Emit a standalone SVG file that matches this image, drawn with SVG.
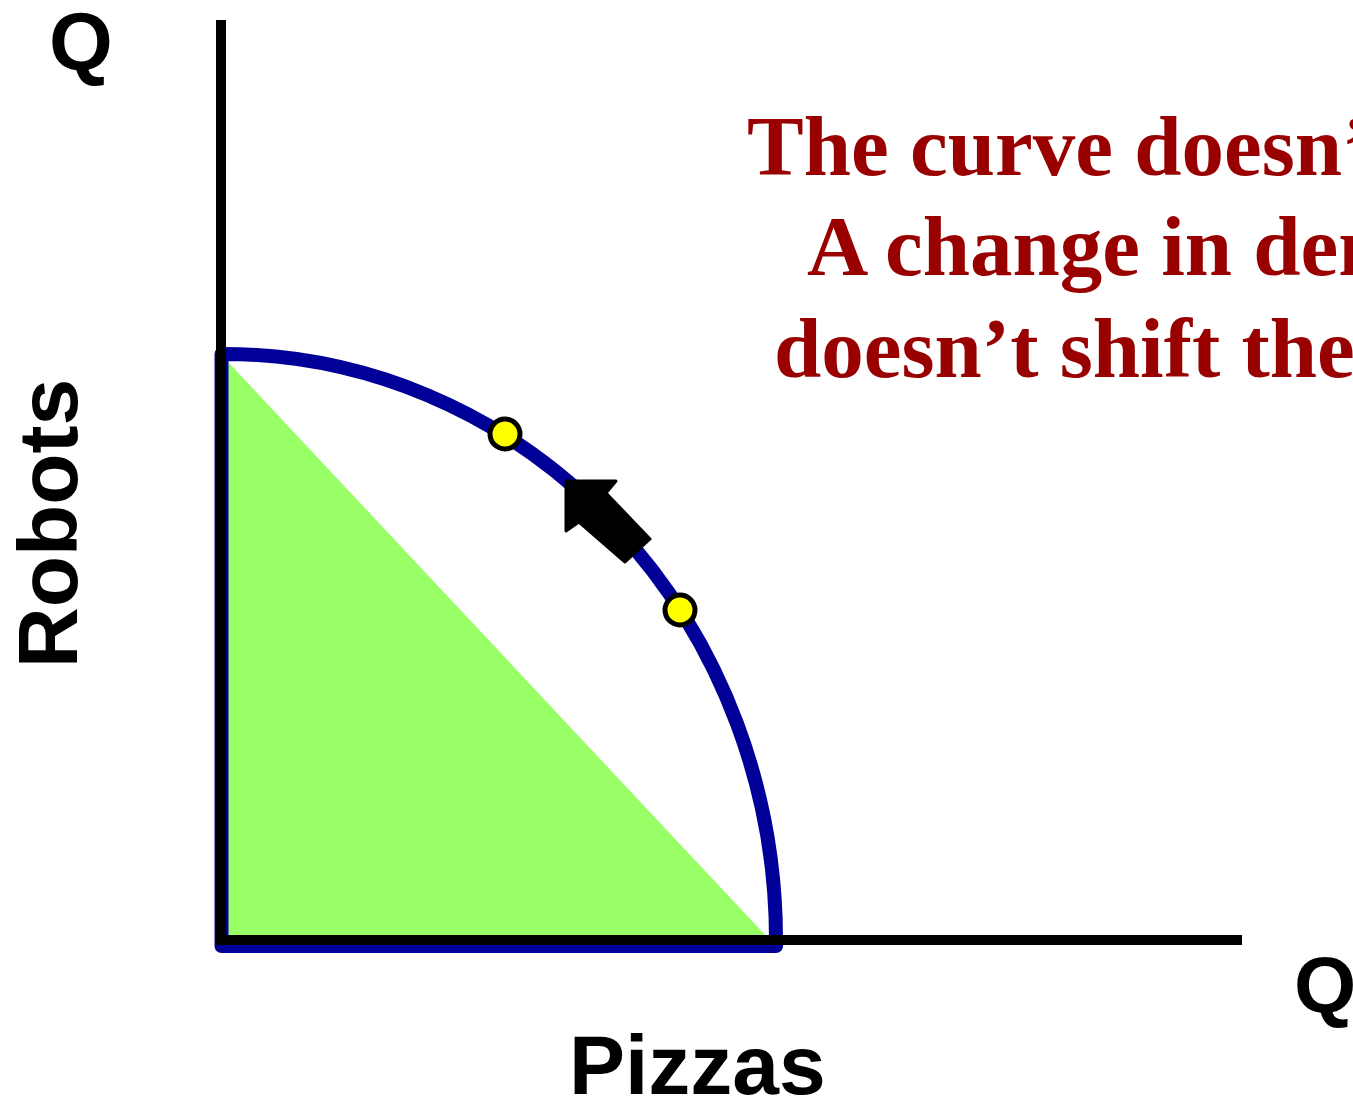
<svg xmlns="http://www.w3.org/2000/svg" width="1353" height="1099" viewBox="0 0 1353 1099">
<style>
.lbl{font-family:"Liberation Sans",Arial,sans-serif;font-weight:bold;fill:#000}
.note{font-family:"Liberation Serif","Times New Roman",serif;font-weight:bold;fill:#990000;font-size:85px}
.axis{stroke:#000;stroke-width:10;fill:none}
.dot{fill:#ffff00;stroke:#000;stroke-width:5}
</style>
<rect width="1353" height="1099" fill="#fff"/>
<g id="feasible-area">
<polygon points="228,362 228,937 767,937" fill="#99ff66"/>
</g>
<g id="ppf-curve">
<path d="M 221.5 354 L 224 354 A 552 586 0 0 1 776 940 L 776 946 L 221.5 946 Z" fill="none" stroke="#000099" stroke-width="14" stroke-linejoin="round"/>
</g>
<g id="axes">
<line class="axis" x1="221" y1="20" x2="221" y2="941"/>
<line class="axis" x1="216" y1="940" x2="1242" y2="940"/>
</g>
<g id="point-upper"><circle class="dot" cx="505" cy="434" r="15"/></g>
<g id="point-lower"><circle class="dot" cx="680" cy="610" r="15"/></g>
<g id="connectors">
<polygon points="566,481 616,481 606,493 650,539 625,562 579,522 566,531" fill="#000" stroke="#000" stroke-width="3" stroke-linejoin="round"/>
</g>
<g id="labels">
<text class="lbl" x="49" y="70" font-size="82">Q</text>
<text class="lbl" x="1294" y="1012" font-size="80">Q</text>
<text class="lbl" x="569" y="1094" font-size="84">Pizzas</text>
<text class="lbl" font-size="84" transform="translate(77,668) rotate(-90)">Robots</text>
</g>
<g id="note">
<text class="note" x="747" y="175">The curve doesn’t</text>
<text class="note" x="807" y="275">A change in demand</text>
<text class="note" x="774" y="377">doesn’t shift the</text>
</g>
</svg>
